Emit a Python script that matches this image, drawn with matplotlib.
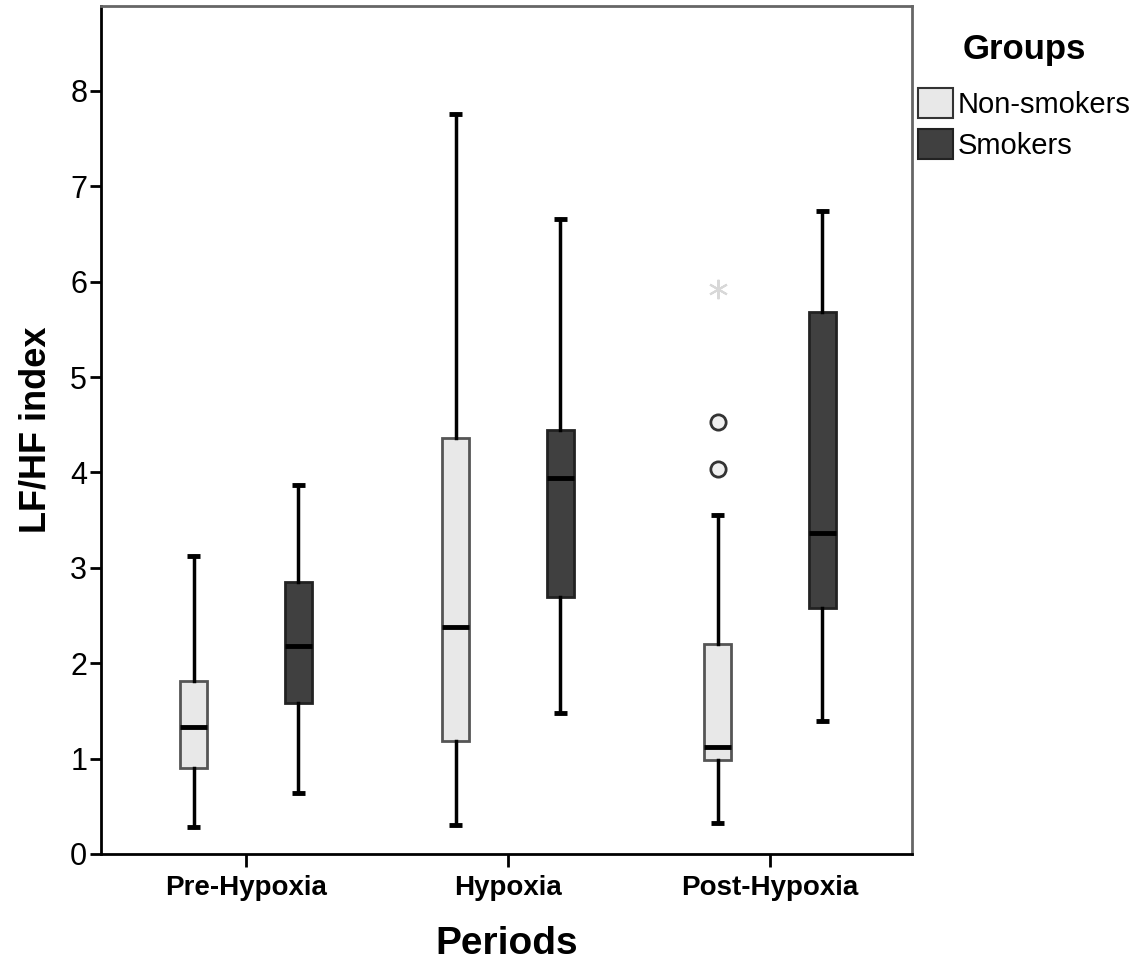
import matplotlib
matplotlib.use("Agg")
import matplotlib.pyplot as plt
from matplotlib.patches import Patch

plt.rcParams['font.family'] = ['Liberation Sans', 'DejaVu Sans']

periods = ["Pre-Hypoxia", "Hypoxia", "Post-Hypoxia"]
groups = ["Non-smokers", "Smokers"]

# five-number summaries: whislo, q1, med, q3, whishi
non_smokers = [
    [0.28, 0.90, 1.33, 1.81, 3.12],
    [0.30, 1.18, 2.38, 4.36, 7.76],
    [0.32, 0.98, 1.12, 2.20, 3.55],
]
smokers = [
    [0.64, 1.58, 2.18, 2.85, 3.87],
    [1.48, 2.69, 3.94, 4.45, 6.66],
    [1.39, 2.58, 3.36, 5.68, 6.74],
]
non_smokers_outliers = [[], [], [4.04, 4.53]]
non_smokers_extremes = [[], [], [5.92]]
smokers_outliers = [[], [], []]

fill_colors = ["#e8e8e8", "#404040"]


def make_stats(summary, fliers):
    out = []
    for s, f in zip(summary, fliers):
        out.append(dict(whislo=s[0], q1=s[1], med=s[2], q3=s[3], whishi=s[4], fliers=f))
    return out


fig = plt.figure(figsize=(11.43, 9.68), dpi=100)
ax = fig.add_axes([0.0884, 0.1178, 0.7096, 0.876])

offset = 0.2
width = 0.103
for gi, (data, outl, col) in enumerate([(non_smokers, non_smokers_outliers, fill_colors[0]),
                                         (smokers, smokers_outliers, fill_colors[1])]):
    pos = [i + (-offset if gi == 0 else offset) for i in range(len(periods))]
    edge = "#555555" if gi == 0 else "#222222"
    ax.bxp(make_stats(data, outl), positions=pos, widths=width, capwidths=0.05,
           patch_artist=True, manage_ticks=False,
           boxprops=dict(facecolor=col, edgecolor=edge, linewidth=2),
           whiskerprops=dict(color="black", linewidth=2.5),
           capprops=dict(color="black", linewidth=3.5, solid_capstyle="butt"),
           medianprops=dict(color="black", linewidth=3.5, solid_capstyle="butt"),
           flierprops=dict(marker="o", markersize=11, markerfacecolor="#f0f0f0",
                           markeredgecolor="#333333", markeredgewidth=2, linestyle="none"))

for i, ext in enumerate(non_smokers_extremes):
    if ext:
        ax.plot([i - offset] * len(ext), ext, linestyle="none", marker=(6, 2, 0),
                markersize=14, color="#d8d8d8", markeredgewidth=1.5)

ax.set_xlim(-0.553, 2.542)
ax.set_ylim(0, 8.89)
ax.set_xticks(range(len(periods)))
ax.set_xticklabels(periods, fontsize=20, fontweight="bold")
ax.set_yticks(range(0, 9))
ax.tick_params(axis="y", labelsize=22, length=8, width=2, pad=2)
ax.tick_params(axis="x", length=9, width=2, pad=6)

for side in ["left", "bottom"]:
    ax.spines[side].set_linewidth(2)
    ax.spines[side].set_color("black")
for side in ["top", "right"]:
    ax.spines[side].set_linewidth(2)
    ax.spines[side].set_color("#666666")

ax.set_ylabel("LF/HF index", fontsize=26, fontweight="bold", labelpad=12)
ax.set_xlabel("Periods", fontsize=28, fontweight="bold", labelpad=18)

handles = [Patch(facecolor=fill_colors[0], edgecolor="#333333", linewidth=1.5),
           Patch(facecolor=fill_colors[1], edgecolor="#222222", linewidth=1.5)]
leg = fig.legend(handles, groups, loc="upper left", bbox_to_anchor=(0.803, 0.966),
                 frameon=False, fontsize=21, title="Groups",
                 title_fontproperties=dict(size=25, weight="bold"),
                 handlelength=1.2, handleheight=1.2, handletextpad=0.15,
                 labelspacing=0.35, borderaxespad=0, borderpad=0)
leg._legend_box.sep = 16

fig.savefig("out.png", dpi=100)
